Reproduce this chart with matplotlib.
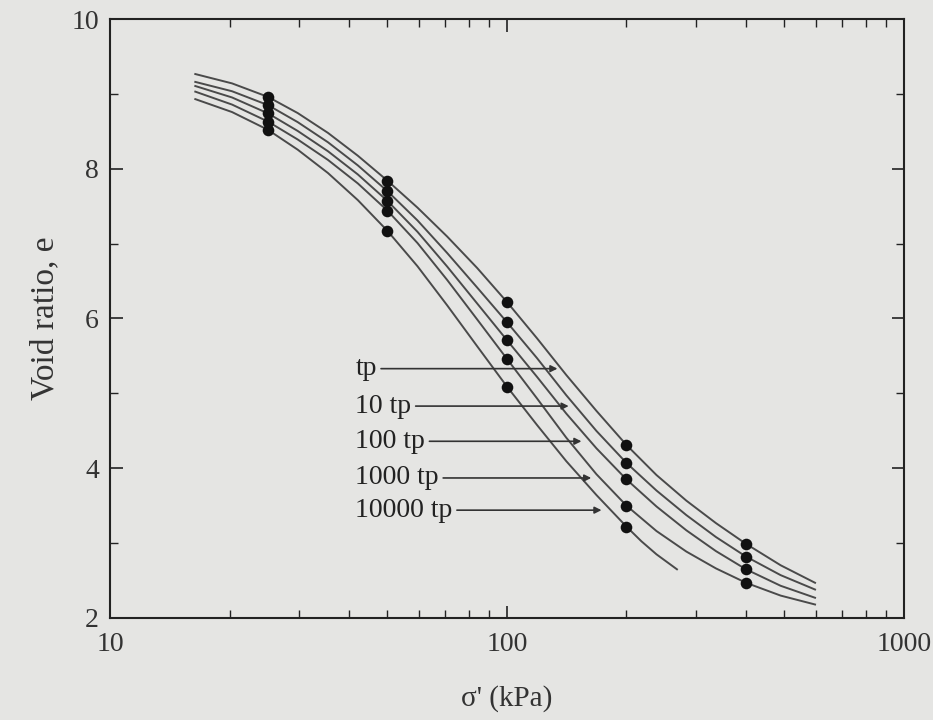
import numpy as np
import matplotlib
matplotlib.use("Agg")
import matplotlib.pyplot as plt
from matplotlib.ticker import LogLocator, NullFormatter, MultipleLocator, FixedLocator, FixedFormatter

# Measured void ratios at each load step (one row per duration)
stress_kpa = [25, 50, 100, 200, 400]
e_tp = [8.96, 7.84, 6.22, 4.31, 2.99]
e_10tp = [8.85, 7.70, 5.95, 4.07, 2.82]
e_100tp = [8.74, 7.57, 5.71, 3.85, 2.65]
e_1000tp = [8.63, 7.44, 5.46, 3.50, 2.47]
e_10000tp = [8.52, 7.17, 5.09, 3.22]

# Compression curves (stress in kPa, void ratio) for each duration
curve_sigma = [16.4, 20.3, 25, 29.7, 35.4, 42.1, 50, 59.5, 70.7, 84.1, 100,
               119, 141, 168, 200, 238, 283, 336, 400, 489, 597]
curve_tp = [9.265, 9.14, 8.96, 8.744, 8.479, 8.174, 7.84, 7.481, 7.094, 6.675, 6.22,
            5.736, 5.246, 4.766, 4.31, 3.909, 3.567, 3.267, 2.99, 2.704, 2.47]
curve_10tp = [9.16, 9.035, 8.85, 8.623, 8.354, 8.045, 7.70, 7.310, 6.874, 6.414, 5.95,
              5.471, 4.976, 4.498, 4.07, 3.702, 3.374, 3.081, 2.82, 2.572, 2.38]
curve_100tp = [9.105, 8.952, 8.74, 8.505, 8.234, 7.924, 7.57, 7.158, 6.693, 6.201, 5.71,
               5.221, 4.731, 4.266, 3.85, 3.489, 3.171, 2.893, 2.65, 2.43, 2.27]
curve_1000tp = [9.03, 8.857, 8.63, 8.391, 8.118, 7.804, 7.44, 7.008, 6.514, 5.988, 5.46,
                4.933, 4.409, 3.92, 3.50, 3.161, 2.887, 2.662, 2.47, 2.299, 2.18]
curve_10000tp_sigma = [16.4, 20.3, 25, 29.7, 35.4, 42.1, 50, 59.5, 70.7, 84.1, 100,
                       119, 141, 168, 200, 218, 238, 268]
curve_10000tp = [8.93, 8.757, 8.52, 8.255, 7.943, 7.581, 7.17, 6.698, 6.175, 5.63, 5.09,
                 4.578, 4.095, 3.642, 3.22, 3.025, 2.85, 2.65]

labels = ["tp", "10 tp", "100 tp", "1000 tp", "10000 tp"]
label_e = [5.33, 4.83, 4.36, 3.87, 3.44]
arrow_sigma = [134, 143, 154, 163, 173]
label_sigma = 41.5

bg = "#e5e5e3"
plt.rcParams["font.family"] = ["Liberation Serif", "DejaVu Serif"]

fig = plt.figure(figsize=(9.33, 7.2), dpi=100, facecolor=bg)
ax = fig.add_axes([0.1179, 0.1417, 0.8510, 0.8319], facecolor=bg)

line_kw = dict(color="#4a4a4a", lw=1.4)
for ys in (curve_tp, curve_10tp, curve_100tp, curve_1000tp):
    ax.plot(curve_sigma, ys, **line_kw)
ax.plot(curve_10000tp_sigma, curve_10000tp, **line_kw)

dot_kw = dict(color="#111111", s=70, zorder=3, linewidths=0)
for ys in (e_tp, e_10tp, e_100tp, e_1000tp):
    ax.scatter(stress_kpa, ys, **dot_kw)
ax.scatter(stress_kpa[:4], e_10000tp, **dot_kw)

for lab, ey, sx in zip(labels, label_e, arrow_sigma):
    ax.annotate(lab, xy=(sx, ey), xytext=(label_sigma, ey),
                ha="left", va="center", fontsize=20, color="#222222",
                arrowprops=dict(arrowstyle="-|>", color="#333333", lw=1.2,
                                mutation_scale=10, shrinkA=1, shrinkB=0))

ax.set_xscale("log")
ax.set_xlim(10, 1000)
ax.set_ylim(2, 10)
ax.xaxis.set_major_locator(FixedLocator([10, 100, 1000]))
ax.xaxis.set_major_formatter(FixedFormatter(["10", "100", "1000"]))
ax.xaxis.set_minor_locator(LogLocator(base=10, subs=np.arange(2, 10)))
ax.xaxis.set_minor_formatter(NullFormatter())
ax.yaxis.set_major_locator(MultipleLocator(2))
ax.yaxis.set_minor_locator(MultipleLocator(1))

ax.tick_params(which="both", direction="in", top=True, right=True,
               colors="#222222", labelcolor="#333333", labelsize=20)
ax.tick_params(which="major", length=9, width=1.2)
ax.tick_params(which="minor", length=6, width=1.0)
ax.tick_params(axis="x", pad=10)
ax.tick_params(axis="y", pad=8)
for s in ax.spines.values():
    s.set_color("#222222")
    s.set_linewidth(1.5)

ax.set_xlabel("σ' (kPa)", fontsize=21, color="#333333", labelpad=20)
ax.set_ylabel("Void ratio, e", fontsize=24, color="#333333", labelpad=8)

fig.savefig("out.png", dpi=100, facecolor=bg)
